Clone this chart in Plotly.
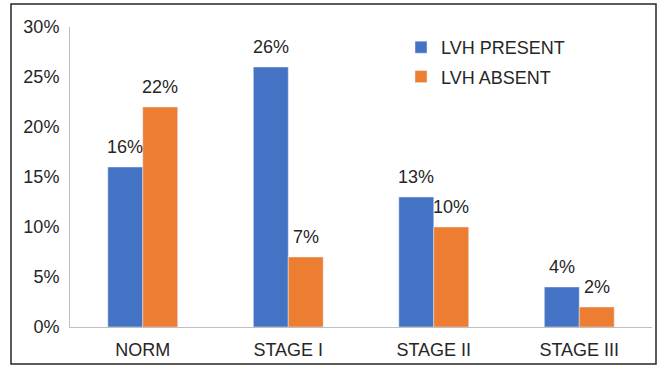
import plotly.graph_objects as go

categories = ["NORM", "STAGE I", "STAGE II", "STAGE III"]
lvh_present = [16, 26, 13, 4]
lvh_absent = [22, 7, 10, 2]
y_ticks = [0, 5, 10, 15, 20, 25, 30]
y_tick_labels = [f"{v}%" for v in y_ticks]

FS = 18
font = dict(family="Liberation Sans, Arial, sans-serif", size=FS, color="#262626")

fig = go.Figure()
fig.add_trace(go.Bar(name="LVH PRESENT", x=categories, y=lvh_present,
                     marker_color="#4472C4", legendgroup="a"))
fig.add_trace(go.Bar(name="LVH ABSENT", x=categories, y=lvh_absent,
                     marker_color="#ED7D31", legendgroup="b"))

annotations = []
for cat, v in zip(categories, lvh_present):
    annotations.append(dict(x=cat, y=v, xref="x", yref="y", text=f"{v}%",
                            showarrow=False, yanchor="bottom", xshift=-17.5,
                            yshift=8, font=font))
for cat, v in zip(categories, lvh_absent):
    annotations.append(dict(x=cat, y=v, xref="x", yref="y", text=f"{v}%",
                            showarrow=False, yanchor="bottom", xshift=17.5,
                            yshift=8, font=font))

W, H = 659, 366
L, R, T, B = 70, 7, 27, 39
pw, ph = W - L - R, H - T - B

def px(x):
    return (x - L) / pw

def py(y):
    return (H - B - y) / ph

fig.update_layout(
    width=W, height=H,
    margin=dict(l=L, r=R, t=T, b=B),
    paper_bgcolor="white", plot_bgcolor="white",
    barmode="group", bargap=0.52, bargroupgap=0,
    font=font,
    showlegend=True,
    legend=dict(x=px(401), y=py(29), xanchor="left", yanchor="top",
                font=font, itemwidth=30, tracegroupgap=3,
                bgcolor="rgba(0,0,0,0)"),
    xaxis=dict(showline=True, linecolor="#BFBFBF", linewidth=1, ticks="",
               tickfont=font, showgrid=False, ticklabelstandoff=6),
    yaxis=dict(range=[0, 30], tickvals=y_ticks, ticktext=y_tick_labels,
               showline=True, linecolor="#BFBFBF", linewidth=1, ticks="",
               tickfont=font, showgrid=False, zeroline=False, ticklabelstandoff=6),
    annotations=annotations,
    shapes=[dict(type="rect", xref="paper", yref="paper",
                 x0=px(11), x1=px(656), y0=py(364), y1=py(4),
                 line=dict(color="#262626", width=1.5))],
)

fig.write_html("out.html")
